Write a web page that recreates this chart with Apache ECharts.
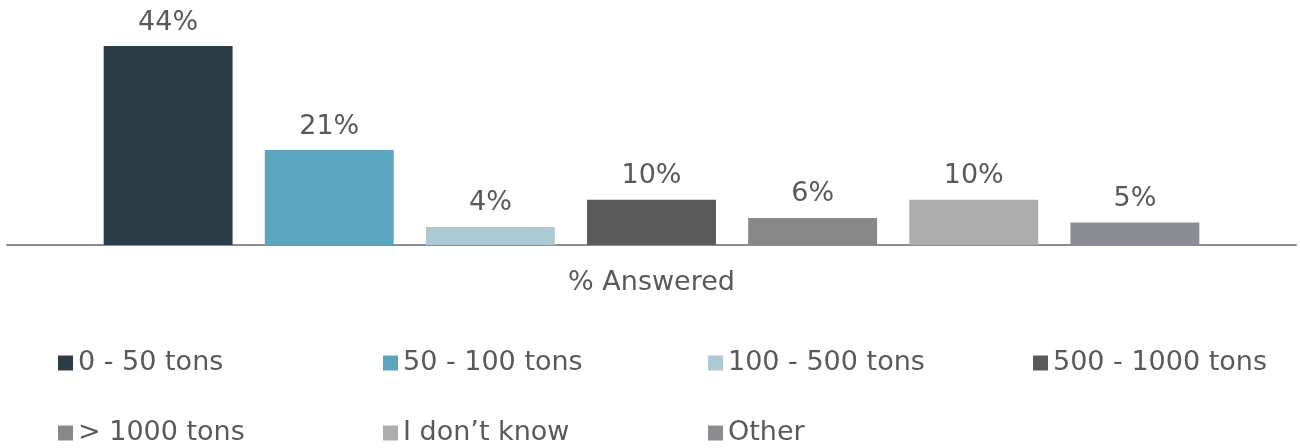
<!DOCTYPE html>
<html>
<head>
<meta charset="utf-8">
<script src="https://cdn.jsdelivr.net/npm/echarts@6/dist/echarts.min.js"></script>
<style>html,body{margin:0;padding:0;background:#fff}#c{width:1300px;height:448px}</style>
</head>
<body>
<div id="c"></div>
<script>
const categories = ['% Answered'];
const seriesNames = ['0 - 50 tons', '50 - 100 tons', '100 - 500 tons', '500 - 1000 tons', '> 1000 tons', 'I don\u2019t know', 'Other'];
const seriesValues = [44, 21, 4, 10, 6, 10, 5];
const seriesColors = ['#2a3c45', '#5ca5be', '#adc9d3', '#5a5a5a', '#888888', '#adadad', '#8a8e92'];

const font = "'DejaVu Sans', Verdana, sans-serif";
const textColor = '#595959';

const chart = echarts.init(document.getElementById('c'), null, {renderer: 'canvas'});
chart.setOption({
  animation: false,
  backgroundColor: '#fff',
  grid: {left: 7, right: 4, top: 19, bottom: 203, containLabel: false},
  xAxis: {
    type: 'category',
    data: categories,
    axisLine: {show: true, lineStyle: {color: '#8c8c8c', width: 2}},
    axisTick: {show: false},
    axisLabel: {color: textColor, fontFamily: font, fontSize: 27, margin: 24}
  },
  yAxis: {
    type: 'value', min: 0, max: 50, show: false,
    splitLine: {show: false}
  },
  legend: {
    left: 58, top: 333, width: 1300, padding: 0,
    itemWidth: 15, itemHeight: 15, itemGap: 10,
    icon: 'rect',
    textStyle: {color: textColor, fontFamily: font, fontSize: 27, width: 295, lineHeight: 60, overflow: 'none'},
    data: seriesNames
  },
  series: seriesNames.map((name, i) => ({
    name: name,
    type: 'bar',
    data: [seriesValues[i]],
    barCategoryGap: '15%',
    barGap: '25%',
    itemStyle: {color: seriesColors[i]},
    label: {
      show: true, position: 'top', distance: 10,
      formatter: '{c}%', color: textColor, fontFamily: font, fontSize: 27
    }
  }))
});
</script>
</body>
</html>
